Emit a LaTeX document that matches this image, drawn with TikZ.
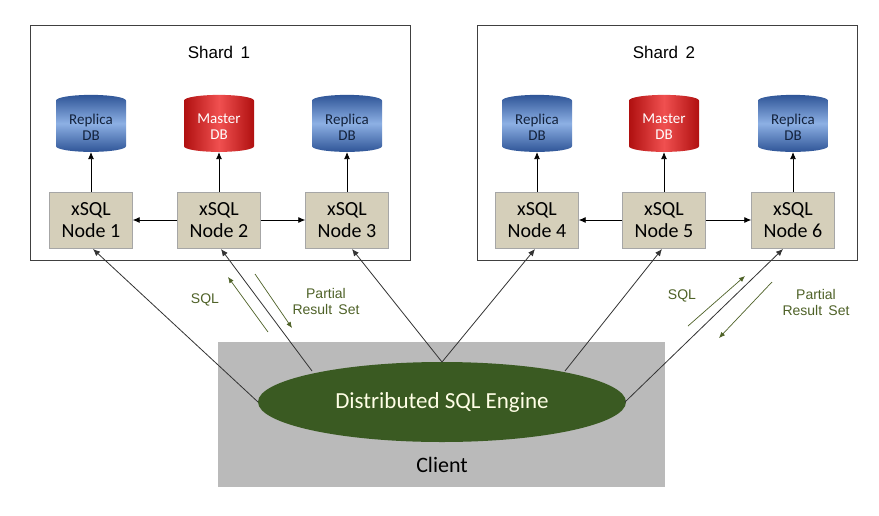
\documentclass[tikz,border=0pt]{standalone}
\usepackage{fontspec}
\setmainfont{Carlito}
\newfontfamily\arialf{Liberation Sans}
\usetikzlibrary{shapes.geometric,arrows.meta}
\definecolor{eng}{HTML}{3A5A22}
\definecolor{lab}{HTML}{4F6228}
\definecolor{xs}{HTML}{D5CFBA}
\definecolor{rb}{HTML}{4F7EC4}
\definecolor{rl}{HTML}{8DB0E4}
\definecolor{rd}{HTML}{2F5597}
\definecolor{ml}{HTML}{F05050}
\definecolor{md}{HTML}{B01010}
\begin{document}
\begin{tikzpicture}[x=1pt,y=-1pt,
  shard/.style={draw=black!75,line width=0.8pt},
  xn/.style={draw=black!35,fill=xs,minimum width=83pt,minimum height=56pt,align=center,font=\fontsize{20}{22}\selectfont},
  db/.style={cylinder,shape border rotate=90,aspect=0.25,minimum width=70pt,minimum height=57pt,align=center,font=\fontsize{15}{16}\selectfont,inner sep=1pt},
  rep/.style={db,left color=rd,right color=rd,middle color=rl,shading angle=0,text=rd!40!black},
  mas/.style={db,left color=md,right color=md,middle color=ml,text=white},
  ar/.style={-{Latex[length=7pt,width=6pt]},black,line width=0.8pt},
  ln/.style={-{Latex[length=7pt,width=6pt]},black!80,line width=0.8pt},
  sm/.style={-{Latex[length=6pt,width=5pt]},lab,line width=0.7pt},
  lb/.style={text=lab,font=\arialf\fontsize{14}{16}\selectfont,align=center}]
\useasboundingbox (0,0) rectangle (879,515);
\fill[white] (0,0) rectangle (879,515);
\draw[shard] (30,25) rectangle (410,260);
\draw[shard] (477,25) rectangle (857,260);
\node[font=\arialf\fontsize{17}{19}\selectfont] (s1) at (219,52) {Shard\, 1};
\node[font=\arialf\fontsize{17}{19}\selectfont] (s2) at (664,52) {Shard\, 2};
\fill[black!27] (218,342) rectangle (665,487);
\node[font=\fontsize{22}{24}\selectfont] (cl) at (442,465) {Client};
\node[ellipse,fill=eng,minimum width=368pt,minimum height=80pt,text=white!90!yellow,font=\fontsize{23}{25}\selectfont,inner sep=0pt] (e) at (442,402) {Distributed SQL Engine};
\foreach \i/\x in {1/91,2/219,3/347,4/537,5/664,6/793}{
  \node[xn] (n\i) at (\x,220) {xSQL\\Node \i};}
\node[rep] (d1) at (91,127) {Replica\\DB};
\node[mas] (d2) at (219,127) {Master\\DB};
\node[rep] (d3) at (347,127) {Replica\\DB};
\node[rep] (d4) at (537,127) {Replica\\DB};
\node[mas] (d5) at (664,127) {Master\\DB};
\node[rep] (d6) at (793,127) {Replica\\DB};
\foreach \i in {1,...,6}{\draw[ar] (n\i) -- (d\i);}
\draw[ar] (n2) -- (n1); \draw[ar] (n2) -- (n3);
\draw[ar] (n5) -- (n4); \draw[ar] (n5) -- (n6);
\coordinate (c1) at (258,402); \coordinate (c2) at (312,371);
\coordinate (c3) at (442,362); \coordinate (c5) at (565,371);
\coordinate (c6) at (625,402);
\draw[ln] (c1) -- (93,249);
\draw[ln] (c2) -- (221,249);
\draw[ln] (c3) -- (352,249);
\draw[ln] (c3) -- (535,249);
\draw[ln] (c5) -- (662,249);
\draw[ln] (c6) -- (783,249);
\coordinate (a1) at (268,332); \coordinate (a2) at (228,277);
\coordinate (a3) at (255,274); \coordinate (a4) at (292,328);
\coordinate (a5) at (688,326); \coordinate (a6) at (745,276);
\coordinate (a7) at (772,282); \coordinate (a8) at (719,338);
\draw[sm] (a1) -- (a2); \draw[sm] (a3) -- (a4);
\draw[sm] (a5) -- (a6); \draw[sm] (a7) -- (a8);
\node[lb] (l1) at (205,300) {SQL};
\node[lb] (l2) at (326,301) {Partial\\Result\, Set};
\node[lb] (l3) at (682,296) {SQL};
\node[lb] (l4) at (816,302) {Partial\\Result\, Set};
\end{tikzpicture}
\end{document}
